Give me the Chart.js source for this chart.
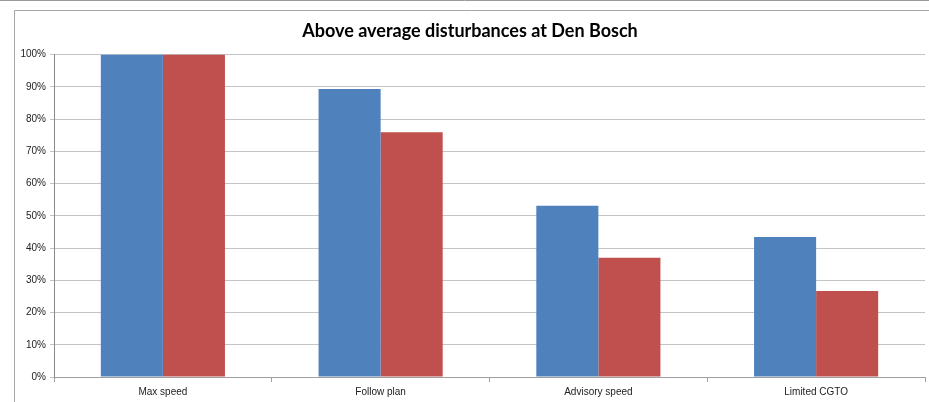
<!DOCTYPE html>
<html>
<head>
<meta charset="utf-8">
<script src="https://cdn.jsdelivr.net/npm/chart.js@4/dist/chart.umd.min.js"></script>
<style>
html,body{margin:0;padding:0;background:#fff;}
#wrap{width:929px;height:402px;position:relative;}
</style>
</head>
<body>
<div id="wrap"><canvas id="c" width="929" height="402"></canvas></div>
<script>
const titleText = "Above average disturbances at Den Bosch";
const categories = ["Max speed", "Follow plan", "Advisory speed", "Limited CGTO"];
const seriesBlue = [1.00, 0.893, 0.531, 0.434];
const seriesRed = [1.00, 0.759, 0.370, 0.267];
const yTicks = [0, 0.1, 0.2, 0.3, 0.4, 0.5, 0.6, 0.7, 0.8, 0.9, 1.0];

const framePlugin = {
  id: 'frame',
  beforeDraw(chart) {
    const ctx = chart.ctx;
    ctx.save();
    ctx.fillStyle = '#fff';
    ctx.fillRect(0, 0, chart.width, chart.height);
    ctx.strokeStyle = '#9a9a9a';
    ctx.lineWidth = 1;
    ctx.beginPath();
    ctx.moveTo(0, 0.5); ctx.lineTo(chart.width, 0.5);
    ctx.stroke();
    ctx.strokeStyle = '#a6a6a6';
    ctx.beginPath();
    ctx.moveTo(14.5, chart.height); ctx.lineTo(14.5, 10.5); ctx.lineTo(chart.width, 10.5);
    ctx.stroke();
    ctx.restore();
  }
};

new Chart(document.getElementById('c'), {
  type: 'bar',
  data: {
    labels: categories,
    datasets: [
      { label: 'Series 1', data: seriesBlue, backgroundColor: '#4F81BD', borderWidth: 0 },
      { label: 'Series 2', data: seriesRed, backgroundColor: '#C0504D', borderWidth: 0 }
    ]
  },
  options: {
    responsive: false,
    animation: false,
    devicePixelRatio: 1,
    layout: { padding: { left: 15, right: 4, top: 10, bottom: 0 } },
    datasets: { bar: { categoryPercentage: 0.57, barPercentage: 1.0 } },
    plugins: {
      legend: { display: false },
      tooltip: { enabled: false },
      title: {
        display: true,
        text: titleText,
        color: '#000',
        font: { family: 'Lato', size: 18, weight: 'bold' },
        padding: { top: 10, bottom: 13 }
      }
    },
    scales: {
      x: {
        grid: { display: true, drawOnChartArea: false, drawTicks: true, tickLength: 5, color: '#a0a0a0', offset: true },
        border: { display: true, color: '#a0a0a0' },
        ticks: { color: '#222', font: { family: 'Liberation Sans', size: 10 }, padding: 4, maxRotation: 0 },
        afterFit(scale) { scale.height = 25; }
      },
      y: {
        min: 0, max: 1,
        afterBuildTicks(scale) { scale.ticks = yTicks.map(v => ({ value: v })); },
        grid: { color: '#c4c4c4', tickLength: 4, drawTicks: true },
        border: { display: true, color: '#8a8a8a' },
        ticks: {
          color: '#222',
          font: { family: 'Liberation Sans', size: 10 },
          padding: 4,
          callback: v => Math.round(v * 100) + '%'
        },
        afterFit(scale) { scale.width = 39; }
      }
    }
  },
  plugins: [framePlugin]
});
</script>
</body>
</html>
